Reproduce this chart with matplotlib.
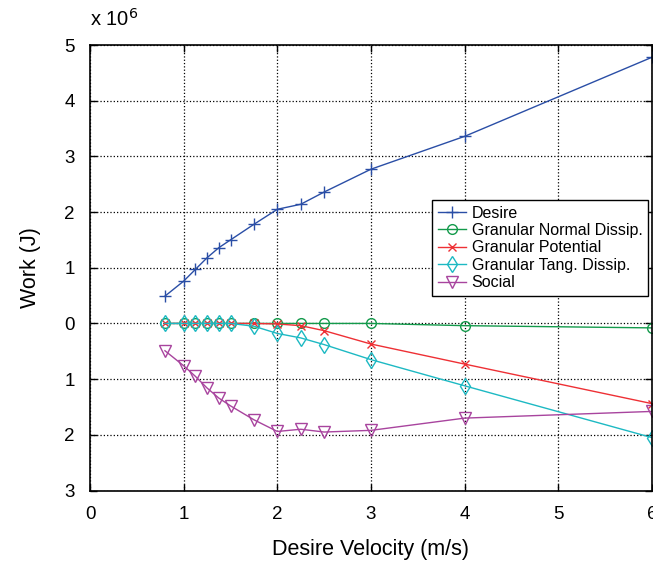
import numpy as np
import matplotlib
matplotlib.use('Agg')
import matplotlib.pyplot as plt

plt.rcParams['font.family'] = ['Liberation Sans', 'DejaVu Sans']

# desire velocity (m/s)
v = [0.8, 1.0, 1.125, 1.25, 1.375, 1.5, 1.75, 2.0, 2.25, 2.5, 3.0, 4.0, 6.0]

# work terms, in units of 1e6 J
desire = [0.49, 0.76, 0.97, 1.18, 1.36, 1.50, 1.78, 2.05, 2.14, 2.36, 2.77, 3.36, 4.78]
normal = [0.0, 0.0, 0.0, 0.0, 0.0, 0.0, 0.0, 0.0, 0.0, 0.0, 0.0, -0.04, -0.08]
potential = [0.0, 0.0, 0.0, 0.0, 0.0, 0.0, 0.0, -0.01, -0.04, -0.13, -0.37, -0.73, -1.44]
tangential = [0.0, 0.0, 0.0, 0.0, 0.0, 0.0, -0.05, -0.18, -0.26, -0.38, -0.65, -1.12, -2.05]
social = [-0.49, -0.76, -0.95, -1.16, -1.34, -1.48, -1.73, -1.94, -1.90, -1.95, -1.92, -1.70, -1.58]

yticks = [-3, -2, -1, 0, 1, 2, 3, 4, 5]
ytick_labels = ['3', '2', '1', '0', '1', '2', '3', '4', '5']

fig = plt.figure(figsize=(6.53, 5.62), dpi=100)
ax = fig.add_axes([90/653, 1-490.5/562, 562/653, 445.5/562])

ax.plot(v, desire, '-', marker='+', color='#2a4ea6', lw=1, ms=9, mew=1, label='Desire')
ax.plot(v, normal, '-', marker='o', color='#139a4b', lw=1, ms=7, mew=1,
        mfc='none', label='Granular Normal Dissip.')
ax.plot(v, potential, '-', marker='x', color='#ee3035', lw=1, ms=6, mew=1,
        label='Granular Potential')
ax.plot(v, tangential, '-', marker='d', color='#1db9c3', lw=1, ms=8, mew=1,
        mfc='none', label='Granular Tang. Dissip.')
ax.plot(v, social, '-', marker='v', color='#a8449e', lw=1, ms=9, mew=1,
        mfc='none', label='Social')

ax.set_xlim(0, 6)
ax.set_ylim(-3, 5)
ax.set_xticks(range(7))
ax.set_yticks(yticks)
ax.set_yticklabels(ytick_labels)
ax.grid(True, color='black', linestyle=':', lw=0.9)
ax.tick_params(direction='in', length=5, width=1, top=True, right=True, labelsize=13.5)
ax.tick_params(axis='x', pad=11)
ax.tick_params(axis='y', pad=11)
for s in ax.spines.values():
    s.set_linewidth(1.2)

ax.set_xlabel('Desire Velocity (m/s)', fontsize=15.5, labelpad=12)
ax.set_ylabel('Work (J)', fontsize=15.5, labelpad=17)
ax.text(0, 1.035, 'x 10$^6$', transform=ax.transAxes, fontsize=14.5,
        ha='left', va='bottom')

leg = ax.legend(loc='upper right', bbox_to_anchor=(648/653, 1-200/562),
                bbox_transform=fig.transFigure, borderaxespad=0, fontsize=11.5,
                fancybox=False, framealpha=1, edgecolor='black',
                handlelength=1.75, labelspacing=0.15, borderpad=0.35,
                handletextpad=0.35)
leg.get_frame().set_linewidth(1)

fig.savefig('out.png', dpi=100)
